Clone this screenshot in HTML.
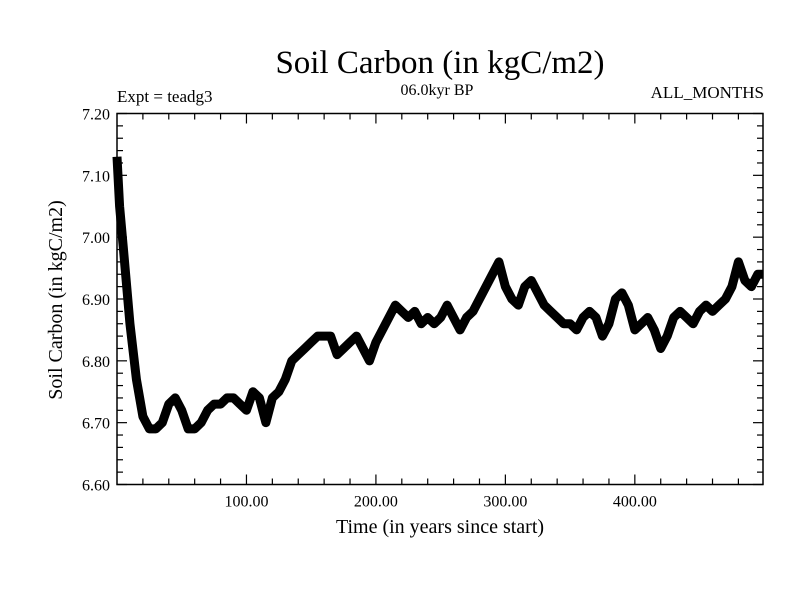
<!DOCTYPE html>
<html><head><meta charset="utf-8"><style>
body{margin:0;background:#fff;}
svg text{font-family:"Liberation Serif",serif;fill:#000;}
</style></head><body>
<svg id="chart" width="800" height="600">
<rect width="800" height="600" fill="#fff"/>
<text x="440" y="73" font-size="33" text-anchor="middle">Soil Carbon (in kgC/m2)</text>
<text x="117" y="102" font-size="17">Expt = teadg3</text>
<text x="437" y="95" font-size="16" text-anchor="middle">06.0kyr BP</text>
<text x="764" y="98" font-size="17" text-anchor="end">ALL_MONTHS</text>
<text x="440" y="533" font-size="20" text-anchor="middle">Time (in years since start)</text>
<text transform="translate(62,300) rotate(-90)" font-size="20" text-anchor="middle">Soil Carbon (in kgC/m2)</text>
<g id="axes"></g>
<g id="marks"></g>
<rect x="117" y="113.5" width="646" height="371" fill="none" stroke="#000" stroke-width="1.5"/>
</svg>
<script>
const years = [0,2,5,10,15,20,25,30,35,40,45,50,55,60,65,70,75,80,85,90,95,100,105,110,115,120,125,130,135,140,145,150,155,160,165,170,175,180,185,190,195,200,205,210,215,220,225,230,235,240,245,250,255,260,265,270,275,280,285,290,295,300,305,310,315,320,325,330,335,340,345,350,355,360,365,370,375,380,385,390,395,400,405,410,415,420,425,430,435,440,445,450,455,460,465,470,475,480,485,490,495,499];
const carbon = [7.13,7.05,6.98,6.86,6.77,6.71,6.69,6.69,6.70,6.73,6.74,6.72,6.69,6.69,6.70,6.72,6.73,6.73,6.74,6.74,6.73,6.72,6.75,6.74,6.70,6.74,6.75,6.77,6.80,6.81,6.82,6.83,6.84,6.84,6.84,6.81,6.82,6.83,6.84,6.82,6.80,6.83,6.85,6.87,6.89,6.88,6.87,6.88,6.86,6.87,6.86,6.87,6.89,6.87,6.85,6.87,6.88,6.90,6.92,6.94,6.96,6.92,6.90,6.89,6.92,6.93,6.91,6.89,6.88,6.87,6.86,6.86,6.85,6.87,6.88,6.87,6.84,6.86,6.90,6.91,6.89,6.85,6.86,6.87,6.85,6.82,6.84,6.87,6.88,6.87,6.86,6.88,6.89,6.88,6.89,6.90,6.92,6.96,6.93,6.92,6.94,6.94];
const yTickLabels = ["6.60","6.70","6.80","6.90","7.00","7.10","7.20"];
const xTickLabels = ["100.00","200.00","300.00","400.00"];
const X0=117,X1=763,Y0=484.5,Y1=113.5,XMIN=0,XMAX=499,YMIN=6.6,YMAX=7.2;
const sx=v=>X0+(v-XMIN)/(XMAX-XMIN)*(X1-X0);
const sy=v=>Y0-(v-YMIN)/(YMAX-YMIN)*(Y0-Y1);
const NS="http://www.w3.org/2000/svg";
const axes=document.getElementById('axes'), marks=document.getElementById('marks');
function ln(x1,y1,x2,y2){const l=document.createElementNS(NS,'line');l.setAttribute('x1',x1);l.setAttribute('y1',y1);l.setAttribute('x2',x2);l.setAttribute('y2',y2);l.setAttribute('stroke','#000');l.setAttribute('stroke-width','1.2');return l;}
for(let v=6.6;v<=7.2001;v+=0.02){
  const k=Math.round(v*100);const major=k%10===0;const len=major?10:6;const y=sy(v);
  let a=ln(X0,y,X0+len,y);
  
  
  axes.appendChild(a);
  let b=ln(X1,y,X1-len,y);
  
  
  axes.appendChild(b);
}
yTickLabels.forEach(s=>{const t=document.createElementNS(NS,'text');t.setAttribute('x',X0-7);t.setAttribute('y',sy(parseFloat(s))+6);t.setAttribute('text-anchor','end');t.setAttribute('font-size','16');t.textContent=s;
  
  
  axes.appendChild(t);});
for(let v=20;v<XMAX;v+=20){
  const major=v%100===0;const len=major?10:6;const x=sx(v);
  let a=ln(x,Y0,x,Y0-len);
  
  
  axes.appendChild(a);
  let b=ln(x,Y1,x,Y1+len);
  
  
  axes.appendChild(b);
}
xTickLabels.forEach(s=>{const t=document.createElementNS(NS,'text');t.setAttribute('x',sx(parseFloat(s)));t.setAttribute('y',Y0+22);t.setAttribute('text-anchor','middle');t.setAttribute('font-size','16');t.textContent=s;
  
  
  axes.appendChild(t);});
const p=document.createElementNS(NS,'polyline');
p.setAttribute('points',years.map((y,i)=>sx(y)+','+sy(carbon[i])).join(' '));
p.setAttribute('fill','none');p.setAttribute('stroke','#000');p.setAttribute('stroke-width','9');p.setAttribute('stroke-linejoin','round');


marks.appendChild(p);
</script>
</body></html>
